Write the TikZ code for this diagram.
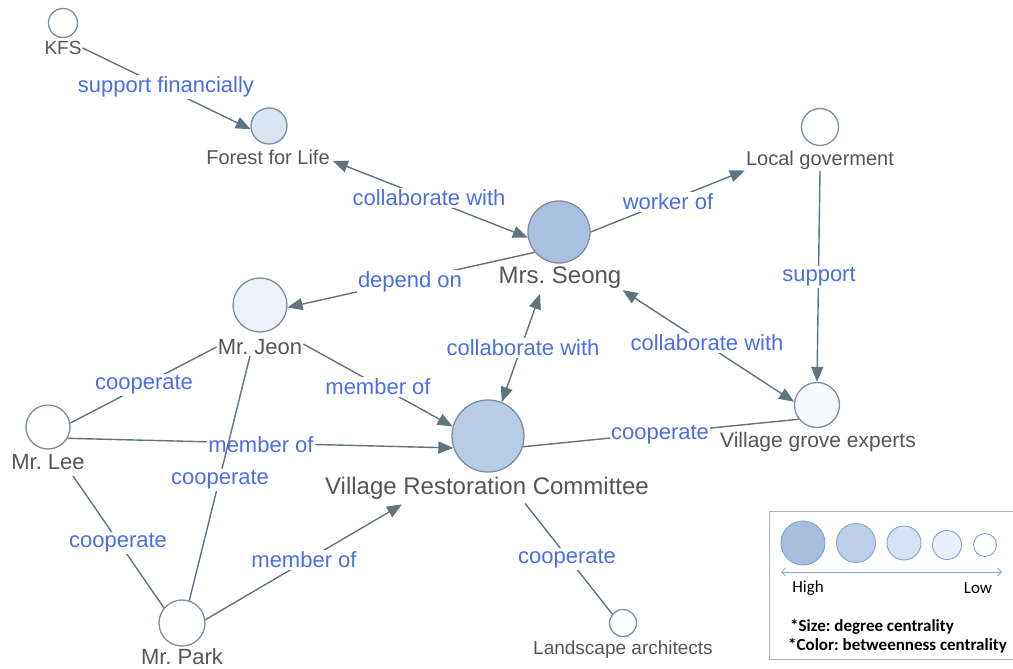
\documentclass[tikz,border=0pt]{standalone}
\usepackage{fontspec}
\setmainfont{Liberation Sans}
\newfontfamily\legfont{Carlito}
\usetikzlibrary{arrows.meta,calc}
\definecolor{seongc}{HTML}{A9C1E1}
\definecolor{vrcc}{HTML}{B8CCE6}
\definecolor{fflc}{HTML}{DBE5F2}
\definecolor{jeonc}{HTML}{EDF1F9}
\definecolor{grovec}{HTML}{F6F8FC}
\definecolor{nodeb}{HTML}{7C8E9E}
\definecolor{edgec}{HTML}{5F7380}
\definecolor{elc}{HTML}{4A6FE3}
\definecolor{labc}{HTML}{555555}
\definecolor{lgA}{HTML}{A7BEDF}
\definecolor{lgB}{HTML}{BCCEE8}
\definecolor{lgC}{HTML}{D6E1F1}
\definecolor{lgD}{HTML}{EAF0F9}
\definecolor{lgborder}{HTML}{7FA3D2}
\definecolor{boxc}{HTML}{B0B0B0}
\newcommand\myfs[1]{\fontsize{#1}{#1}\selectfont}
\frenchspacing
\begin{document}
\begin{tikzpicture}[x=1pt,y=-1pt,
  vtx/.style={circle, draw=nodeb, line width=1.3pt, inner sep=0pt, fill=white},
  lab/.style={text=labc, inner sep=1pt, font=\myfs{20}},
  elab/.style={text=elc, fill=white, inner sep=1.5pt, font=\myfs{22}},
  conn/.style={draw=edgec, line width=1.4pt},
  arr/.style={conn, -{Triangle[length=15pt,width=12pt]}},
  barr/.style={conn, {Triangle[length=15pt,width=12pt]}-{Triangle[length=15pt,width=12pt]}},
  lgcirc/.style={circle, draw=lgborder, line width=0.9pt, inner sep=0pt},
  lgtext/.style={inner sep=0pt, font=\legfont\myfs{17}, text=black}]
\useasboundingbox (0,0) rectangle (1013,669);

% vertices
\node[vtx, minimum size=29pt] (kfs) at (63,23) {};
\node[lab, font=\myfs{19}] (kfsL) at (63,48) {KFS};
\node[vtx, minimum size=36pt, fill=fflc] (ffl) at (269,126) {};
\node[lab] (fflL) at (268,157) {Forest for Life};
\node[vtx, minimum size=62pt, fill=seongc] (seong) at (559,232) {};
\node[lab, font=\myfs{24}] (sL) at (560,278) {Mrs. Seong};
\node[vtx, minimum size=37pt] (lg) at (820,127) {};
\node[lab] (lgL) at (820,160) {Local goverment};
\node[vtx, minimum size=54pt, fill=jeonc] (jeon) at (260,305) {};
\node[lab, font=\myfs{22}] (jL) at (260,347) {Mr. Jeon};
\node[vtx, minimum size=44pt] (lee) at (48,427) {};
\node[lab, font=\myfs{22}] (leeL) at (48,462) {Mr. Lee};
\node[vtx, minimum size=72pt, fill=vrcc] (vrc) at (488,436) {};
\node[lab, font=\myfs{24}] (vrcL) at (487,488) {Village Restoration Committee};
\node[vtx, minimum size=45pt, fill=grovec] (grove) at (817,405) {};
\node[lab, font=\myfs{21}] (groveL) at (818,442) {Village grove experts};
\node[vtx, minimum size=46pt] (park) at (182,623) {};
\node[lab, font=\myfs{22}] (parkL) at (182,657) {Mr. Park};
\node[vtx, minimum size=27pt] (la) at (623,623) {};
\node[lab, font=\myfs{19}] (laL) at (623,650) {Landscape architects};

% edges
\draw[arr] (kfsL.east) -- (ffl.190);
\node[elab] (e1) at (166,87) {support financially};

\draw[barr] ($(fflL.east)+(2,4)$) -- (seong.190);
\node[elab] (e2) at (429,198) {collaborate with};

\draw[arr] (seong.east) -- (lgL.south west);
\node[elab] (e3) at (668,202) {worker of};

\draw[arr] (seong.220) -- (jeon.-5);
\node[elab] (e4) at (410,282) {depend on};

\draw[barr] ($(sL.south)+(-20,4)$) -- (vrc.68);
\node[elab] (e5) at (523,348) {collaborate with};

\draw[barr] (sL.south east) -- (grove.172);
\node[elab] (e6) at (707,343) {collaborate with};

\draw[arr] (lgL.south) -- (grove.north);
\node[elab] (e7) at (819,277) {support};

\draw[arr] ($(jL.east)+(0,-3)$) -- (vrc.165);
\node[elab] (e8) at (378,387) {member of};

\draw[conn] (jL.west) -- (lee.10);
\node[elab] (e9) at (144,385) {cooperate};

\draw[arr] (lee.-30) -- (vrc.199);
\node[elab] (e10) at (261,445) {member of};

\draw[conn] ($(jL.south)+(-10,0)$) -- (park.72);
\node[elab] (e11) at (220,480) {cooperate};

\draw[conn] ($(leeL.south)+(25,5)$) -- (park.140);
\node[elab] (e12) at (118,543) {cooperate};

\draw[arr] (park.8) -- ($(vrcL.south)+(-85,4)$);
\node[elab] (e13) at (304,560) {member of};

\draw[conn] (vrc.-17) -- (grove.218);
\node[elab] (e14) at (660,435) {cooperate};

\draw[conn] ($(vrcL.south)+(38,3)$) -- (la.140);
\node[elab] (e15) at (567,559) {cooperate};

% legend
\draw[boxc, line width=0.8pt] (1016,511) -- (769,511) -- (769,659) -- (1016,659);
\node[lgcirc, minimum size=44pt, fill=lgA] (g1) at (803,543) {};
\node[lgcirc, minimum size=39pt, fill=lgB] (g2) at (856,543) {};
\node[lgcirc, minimum size=34pt, fill=lgC] (g3) at (904,543) {};
\node[lgcirc, minimum size=29pt, fill=lgD] (g4) at (947,545) {};
\node[lgcirc, minimum size=23pt, fill=white] (g5) at (985,545) {};
\coordinate (ga) at (781,572);
\coordinate (gb) at (1002,572);
\draw[lgborder, line width=0.8pt, {Straight Barb[length=4pt,width=8pt]}-{Straight Barb[length=4pt,width=8pt]}] (ga) -- (gb);
\node[lgtext] (hi) at (808,588) {High};
\node[lgtext] (lo) at (978,588) {Low};
\node[lgtext, anchor=west, font=\legfont\bfseries\myfs{17}] (sz) at (790,627) {*Size: degree centrality};
\node[lgtext, anchor=west, font=\legfont\bfseries\myfs{17}] (cl) at (788,646) {*Color: betweenness centrality};
\end{tikzpicture}
\end{document}
